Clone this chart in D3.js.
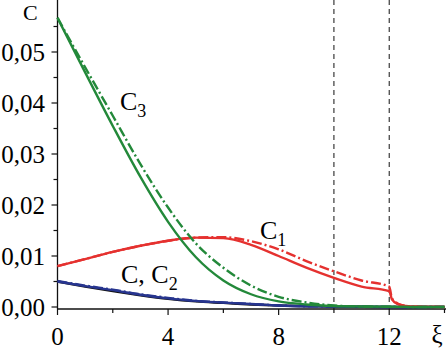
<!DOCTYPE html>
<html>
<head>
<meta charset="utf-8">
<script src="https://cdn.jsdelivr.net/npm/d3@7"></script>
<style>
  body { margin: 0; background: #fff; }
</style>
</head>
<body>
<div id="chart"></div>
<script>
// xi grid shared by all curves (extra points around the drop at xi = 12)
const xi = [0, 1, 2, 3, 4, 5, 6, 7, 8, 9, 10, 11, 12, 12.1, 12.3, 12.6, 13, 14];

// C3 (green)
const c3Solid = [0.0567, 0.0460, 0.0355, 0.0255, 0.0167, 0.0098, 0.0052, 0.0025, 0.0011, 0.0005, 0.0002, 0.0001, 0.00005, 0.00004, 0.00003, 0.00002, 0, 0];
const c3Dash  = [0.0567, 0.0470, 0.0375, 0.0280, 0.0195, 0.0125, 0.0077, 0.0042, 0.0020, 0.0009, 0.0003, 0.0001, 0.00005, 0.00004, 0.00003, 0.00002, 0, 0];

// C1 (red)
const c1Solid = [0.0080, 0.0094, 0.0108, 0.0120, 0.0130, 0.0136, 0.0135, 0.0122, 0.0100, 0.0077, 0.0057, 0.0040, 0.0031, 0.0015, 0.0006, 0.0002, 0.00005, 0];
const c1Dash  = [0.0080, 0.0094, 0.0108, 0.0120, 0.0130, 0.0136, 0.0137, 0.0129, 0.0113, 0.0090, 0.0070, 0.0052, 0.0040, 0.0017, 0.0007, 0.0002, 0.00005, 0];

// C and C2 (black / blue)
const cTotal  = [0.0050, 0.0040, 0.0031, 0.0023, 0.0016, 0.0011, 0.0008, 0.0005, 0.0003, 0.00015, 0.0001, 0.00005, 0, 0, 0, 0, 0, 0];
const c2Solid = [0.0050, 0.0041, 0.0033, 0.0024, 0.0017, 0.0012, 0.00085, 0.0006, 0.0003, 0.00015, 0.0001, 0.00005, 0, 0, 0, 0, 0, 0];
const c2Dash  = [0.0051, 0.0042, 0.0034, 0.0025, 0.0018, 0.0012, 0.0009, 0.0006, 0.0003, 0.00015, 0.0001, 0.00005, 0, 0, 0, 0, 0, 0];

const xTicks = [0, 4, 8, 12];
const xMinor = [2, 6, 10, 14];
const yTicks = [0, 0.01, 0.02, 0.03, 0.04, 0.05];
const yMinor = [0.005, 0.015, 0.025, 0.035, 0.045, 0.055];
const markers = [10, 12];   // dashed vertical lines

const width = 446, height = 350;
const serif = "'Liberation Serif', 'Times New Roman', serif";
const fmt = d => d3.format(".2f")(d).replace(".", ",");

const x = d3.scaleLinear().domain([0, 14]).range([57.5, 444.5]);
const y = d3.scaleLinear().domain([0, 0.06]).range([307, 1]);
const axisY = 309;

const svg = d3.select("#chart").append("svg")
    .attr("width", width)
    .attr("height", height)
    .style("font-family", serif);

// dashed guide lines
svg.selectAll(".guide")
    .data(markers)
    .enter().append("line")
    .attr("x1", d => x(d)).attr("x2", d => x(d))
    .attr("y1", 0).attr("y2", axisY)
    .attr("stroke", "#111")
    .attr("stroke-width", 1)
    .attr("stroke-dasharray", "5,4");

// axes lines
svg.append("line")
    .attr("x1", x(0)).attr("x2", x(0))
    .attr("y1", 0).attr("y2", axisY)
    .attr("stroke", "#111").attr("stroke-width", 1.3);
svg.append("line")
    .attr("x1", x(0)).attr("x2", width)
    .attr("y1", axisY).attr("y2", axisY)
    .attr("stroke", "#111").attr("stroke-width", 1.3);

// y ticks
svg.selectAll(".ytick")
    .data(yTicks)
    .enter().append("line")
    .attr("x1", x(0) - 6).attr("x2", x(0))
    .attr("y1", d => y(d)).attr("y2", d => y(d))
    .attr("stroke", "#111").attr("stroke-width", 1.2);
svg.selectAll(".yminor")
    .data(yMinor)
    .enter().append("line")
    .attr("x1", x(0) - 4).attr("x2", x(0))
    .attr("y1", d => y(d)).attr("y2", d => y(d))
    .attr("stroke", "#111").attr("stroke-width", 1.2);
svg.selectAll(".ylabel")
    .data(yTicks)
    .enter().append("text")
    .attr("x", 45)
    .attr("y", d => y(d) + 8.5)
    .attr("text-anchor", "end")
    .style("font-size", "25px")
    .text(fmt);

// x ticks
svg.selectAll(".xtick")
    .data(xTicks)
    .enter().append("line")
    .attr("x1", d => x(d)).attr("x2", d => x(d))
    .attr("y1", axisY).attr("y2", axisY + 6)
    .attr("stroke", "#111").attr("stroke-width", 1.2);
svg.selectAll(".xminor")
    .data(xMinor)
    .enter().append("line")
    .attr("x1", d => x(d)).attr("x2", d => x(d))
    .attr("y1", axisY).attr("y2", axisY + 4)
    .attr("stroke", "#111").attr("stroke-width", 1.2);
svg.selectAll(".xlabel")
    .data(xTicks)
    .enter().append("text")
    .attr("x", d => x(d))
    .attr("y", 345)
    .attr("text-anchor", "middle")
    .style("font-size", "25px")
    .text(d => d);

// axis names
svg.append("text").attr("x", 23).attr("y", 20)
    .style("font-size", "22px").text("C");
svg.append("text").attr("x", 437).attr("y", 343)
    .attr("text-anchor", "middle")
    .style("font-size", "25px").text("ξ");

// curves
const line = d3.line()
    .x(d => x(d[0]))
    .y(d => y(d[1]))
    .curve(d3.curveMonotoneX);

const series = [
    { values: cTotal,  color: "#111111", dash: null },
    { values: c2Solid, color: "#27358f", dash: null },
    { values: c2Dash,  color: "#27358f", dash: "10,3,2,3" },
    { values: c1Solid, color: "#e5312f", dash: null },
    { values: c1Dash,  color: "#e5312f", dash: "10,3,2,3" },
    { values: c3Solid, color: "#23893a", dash: null },
    { values: c3Dash,  color: "#23893a", dash: "10,3,2,3" }
];

series.forEach(s => {
    svg.append("path")
        .datum(xi.map((v, i) => [v, s.values[i]]))
        .attr("fill", "none")
        .attr("stroke", s.color)
        .attr("stroke-width", 2.4)
        .attr("stroke-dasharray", s.dash)
        .attr("d", line);
});

// curve labels with subscripts
function label(xp, yp, main, sub) {
    const t = svg.append("text").attr("x", xp).attr("y", yp).style("font-size", "26px");
    t.append("tspan").text(main);
    t.append("tspan").attr("dy", 7).style("font-size", "18px").text(sub);
}
label(120, 110, "C", "3");
label(260, 239, "C", "1");
label(121, 283, "C, C", "2");
</script>
</body>
</html>
